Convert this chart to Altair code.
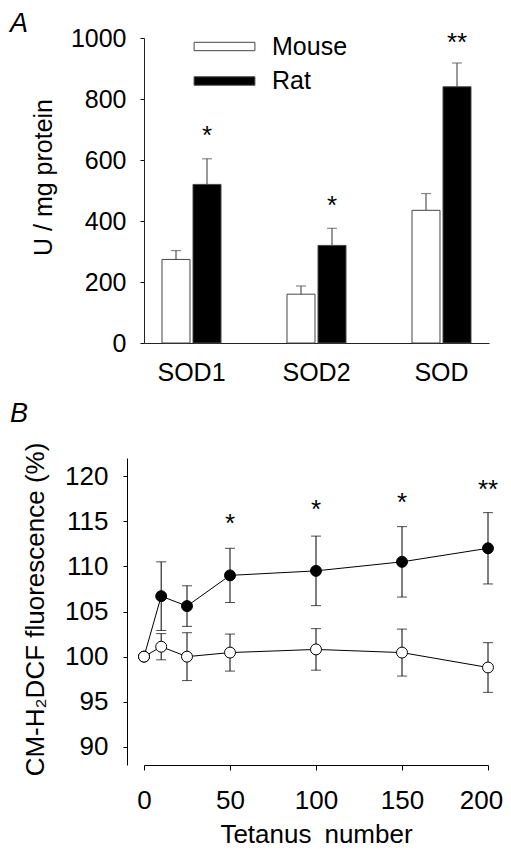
import altair as alt
import pandas as pd

# ---------- Panel A data ----------
categories = ["SOD1", "SOD2", "SOD"]
species = ["Mouse", "Rat"]
mouse_activity = [274, 160, 435]
mouse_activity_err = [29, 27, 55]
rat_activity = [520, 320, 840]
rat_activity_err = [84, 56, 78]
star_labels_a = ["*", "*", "**"]
star_y_a = [651, 423, 959]

# ---------- Panel B data ----------
tetanus = [0, 10, 25, 50, 100, 150, 200]
mouse_fluor = [100.0, 101.1, 100.0, 100.45, 100.8, 100.45, 98.8]
mouse_fluor_err = [0, 1.45, 2.65, 2.05, 2.3, 2.6, 2.75]
rat_fluor = [100.0, 106.7, 105.6, 109.0, 109.5, 110.5, 112.0]
rat_fluor_err = [0, 3.8, 2.25, 3.0, 3.85, 3.9, 3.95]
star_x_b = [50, 100, 150, 200]
star_labels_b = ["*", "*", "*", "**"]
star_y_b = [113.8, 115.4, 116.1, 117.6]

FONT = "Liberation Sans"

# ---------- build tables ----------
rows_a = []
for i, c in enumerate(categories):
    rows_a.append({"category": c, "species": "Mouse", "value": mouse_activity[i],
                   "top": mouse_activity[i] + mouse_activity_err[i]})
    rows_a.append({"category": c, "species": "Rat", "value": rat_activity[i],
                   "top": rat_activity[i] + rat_activity_err[i]})
df_a = pd.DataFrame(rows_a)
df_stars_a = pd.DataFrame({"category": categories, "species": ["Rat"] * 3,
                           "y": star_y_a, "label": star_labels_a})

x_a = alt.X("category:N", sort=categories,
            scale=alt.Scale(paddingInner=0.528, paddingOuter=0.144),
            axis=alt.Axis(title=None, ticks=False, labelAngle=0, labelFontSize=25,
                          labelPadding=17, domainColor="#222"))
xo_a = alt.XOffset("species:N", sort=species,
                   scale=alt.Scale(domain=species, paddingInner=0.097, paddingOuter=0))
y_scale_a = alt.Scale(domain=[0, 1000], nice=False)
y_a = alt.Y("value:Q", scale=y_scale_a,
            axis=alt.Axis(values=[0, 200, 400, 600, 800, 1000], format="d", tickSize=4,
                          labelPadding=14, labelFontSize=25, labelFlush=False,
                          title="U / mg protein",
                          titleFontSize=25, titleFontWeight="normal", titleX=-93, titleY=139,
                          titleBaseline="alphabetic", titleAngle=270, domainColor="#222"))

legend_path = "M-7.6,-1.05L7.6,-1.05L7.6,1.05L-7.6,1.05Z"
bars = alt.Chart(df_a).mark_bar(stroke="#444", strokeWidth=1).encode(
    x=x_a, xOffset=xo_a, y=y_a,
    fill=alt.Fill("species:N", scale=alt.Scale(domain=species, range=["white", "black"]),
                  legend=alt.Legend(title=None, orient="none", legendX=68, legendY=-4,
                                    symbolType=legend_path, symbolSize=64,
                                    symbolStrokeColor="#444", symbolStrokeWidth=1,
                                    labelFontSize=25, labelOffset=35, rowPadding=8.5,
                                    padding=0, labelFont=FONT, labelColor="black")),
)
err_a = alt.Chart(df_a).mark_rule(color="#555", strokeWidth=1.2).encode(
    x=x_a, xOffset=xo_a, y=alt.Y("value:Q", scale=y_scale_a), y2="top:Q")
cap_a = alt.Chart(df_a).mark_tick(color="#555", thickness=1.2, size=10).encode(
    x=x_a, xOffset=xo_a, y=alt.Y("top:Q", scale=y_scale_a))
stars_a = alt.Chart(df_stars_a).mark_text(fontSize=26, baseline="alphabetic", color="black").encode(
    x=x_a, xOffset=xo_a, y=alt.Y("y:Q", scale=y_scale_a), text="label:N")

chart_a = alt.layer(err_a, cap_a, bars, stars_a).properties(
    width=345, height=305,
    title=alt.TitleParams("A", anchor="start", frame="group", fontSize=27, fontStyle="italic",
                          fontWeight="normal", dx=-134, offset=-12, font=FONT, color="black"))

# ---------- Panel B ----------
rows_b = []
for i, t in enumerate(tetanus):
    rows_b.append({"tetanus": t, "series": "Rat", "value": rat_fluor[i],
                   "lo": rat_fluor[i] - rat_fluor_err[i], "hi": rat_fluor[i] + rat_fluor_err[i],
                   "err": rat_fluor_err[i]})
for i, t in enumerate(tetanus):
    rows_b.append({"tetanus": t, "series": "Mouse", "value": mouse_fluor[i],
                   "lo": mouse_fluor[i] - mouse_fluor_err[i], "hi": mouse_fluor[i] + mouse_fluor_err[i],
                   "err": mouse_fluor_err[i]})
df_b = pd.DataFrame(rows_b)
df_stars_b = pd.DataFrame({"tetanus": star_x_b, "y": star_y_b, "label": star_labels_b})

x_scale_b = alt.Scale(domain=[0, 200], nice=False)
y_scale_b = alt.Scale(domain=[88, 122], nice=False, zero=False)
x_b = alt.X("tetanus:Q", scale=x_scale_b,
            axis=alt.Axis(values=[0, 50, 100, 150, 200], tickSize=5, labelPadding=17,
                          labelFontSize=26, labelFlush=False,
                          labelOffset={"expr": "datum.value == 200 ? -7 : 0"},
                          title="Tetanus\u2002number", titleFontSize=26,
                          titleFontWeight="normal", titleBaseline="alphabetic", titleY=77))
y_b = alt.Y("value:Q", scale=y_scale_b,
            axis=alt.Axis(values=[90, 95, 100, 105, 110, 115, 120], offset=17, tickSize=4,
                          labelPadding=15, labelFontSize=26, labelFlush=False,
                          title="CM-H\u2082DCF fluorescence (%)", titleFontSize=26,
                          titleFontWeight="normal", titleX=-84, titleY=151,
                          titleBaseline="alphabetic", titleAngle=270))

base_b = alt.Chart(df_b)
lines_b = base_b.mark_line(color="black", strokeWidth=1).encode(
    x=x_b, y=y_b, detail="series:N")
errs = base_b.transform_filter("datum.err > 0")
err_b = errs.mark_rule(color="black", strokeWidth=1).encode(
    x=x_b, y=alt.Y("lo:Q", scale=y_scale_b), y2="hi:Q")
cap_lo_b = errs.mark_tick(color="black", thickness=1, size=10, orient="horizontal").encode(
    x=x_b, y=alt.Y("lo:Q", scale=y_scale_b))
cap_hi_b = errs.mark_tick(color="black", thickness=1, size=10, orient="horizontal").encode(
    x=x_b, y=alt.Y("hi:Q", scale=y_scale_b))
rat_pts = base_b.transform_filter("datum.series == 'Rat'").mark_point(
    shape="circle", filled=True, fill="black", stroke="black", strokeWidth=1, size=120,
    opacity=1).encode(x=x_b, y=y_b)
mouse_pts = base_b.transform_filter("datum.series == 'Mouse'").mark_point(
    shape="circle", filled=True, fill="white", stroke="black", strokeWidth=1, size=120,
    opacity=1).encode(x=x_b, y=y_b)
stars_b = alt.Chart(df_stars_b).mark_text(fontSize=26, baseline="alphabetic", color="black").encode(
    x=alt.X("tetanus:Q", scale=x_scale_b), y=alt.Y("y:Q", scale=y_scale_b), text="label:N")

chart_b = alt.layer(lines_b, err_b, cap_lo_b, cap_hi_b, rat_pts, mouse_pts, stars_b).properties(
    width=344, height=307,
    title=alt.TitleParams("B", anchor="start", frame="group", fontSize=27, fontStyle="italic",
                          fontWeight="normal", dx=-134, offset=14, font=FONT, color="black"))

chart = alt.vconcat(chart_a, chart_b, spacing=115, bounds="flush").properties(
    padding={"left": 2, "top": 2, "right": 0, "bottom": 0}
).configure(font=FONT).configure_view(stroke=None).configure_axis(
    grid=False, domainColor="black", tickColor="black", labelColor="black",
    titleColor="black", labelFont=FONT, titleFont=FONT
)

chart.save("out.html", embed_options={"renderer": "svg", "actions": False})
